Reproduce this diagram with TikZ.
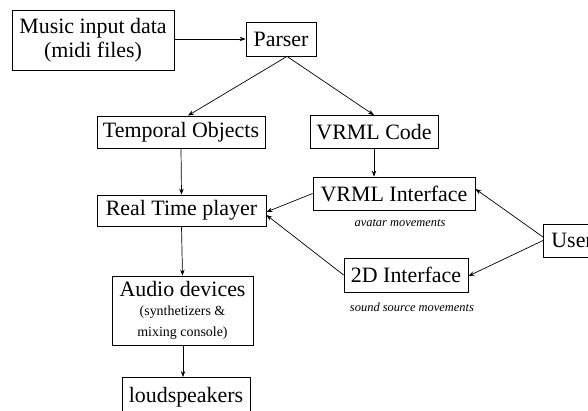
\documentclass[tikz,border=0pt]{standalone}
\usepackage{fontspec}
\setmainfont{Liberation Serif}
\usetikzlibrary{arrows.meta}

\begin{document}
\begin{tikzpicture}[x=1bp,y=-1bp,
  box/.style={draw, line width=0.8bp, inner sep=0pt, align=center,
              font=\fontsize{22}{24}\selectfont},
  arr/.style={-{Stealth[length=6bp,width=4.5bp]}, line width=0.7bp},
  note/.style={inner sep=0pt, font=\fontsize{12.5}{14}\selectfont\itshape}]
\useasboundingbox (0,0) rectangle (588,410);

% boxes
\node[box, minimum width=162bp, minimum height=60bp] (music) at (93,40)
  {Music input data\\(midi files)};
\node[box, minimum width=70bp, minimum height=34bp] (parser) at (281,39) {Parser};
\node[box, minimum width=168bp, minimum height=32bp] (temporal) at (181,132) {Temporal Objects};
\node[box, minimum width=128bp, minimum height=33bp] (vcode) at (374,132) {VRML Code};
\node[box, minimum width=162bp, minimum height=33bp] (vint) at (394,193.5) {VRML Interface};
\node[box, minimum width=169bp, minimum height=31bp] (rtp) at (181.5,210.5) {Real Time player};
\node[box, minimum width=124bp, minimum height=34bp] (dint) at (406,275) {2D Interface};
\node[box, minimum height=33bp, inner xsep=8bp, text width=48bp, align=left, anchor=west] (user) at (543,240.5) {User};
\node[box, minimum width=141bp, minimum height=69bp] (audio) at (182.5,310.5)
  {Audio devices\\[-5bp]{\fontsize{14}{15}\selectfont (synthetizers \&}\\[-3bp]{\fontsize{14}{15}\selectfont mixing console)}};
\node[box, minimum width=128bp, minimum height=40bp, anchor=north, text depth=0pt] (loud) at (186,377)
  {\raisebox{6bp}{loudspeakers}};

% labels
\node[note] (lblav) at (400,223) {avatar movements};
\node[note] (lblss) at (412,307) {sound source movements};

% connectors
\draw[arr] (music.east |- parser.west) -- (parser.west);
\coordinate (psplit) at ([xshift=6bp]parser.south);
\draw[arr] (psplit) -- ([xshift=7bp]temporal.north);
\draw[arr] (psplit) -- (vcode.north);
\draw[arr] (vcode.south) -- (vcode.south |- vint.north);
\draw[arr] (temporal.south) -- (rtp.north);
\draw[arr] (rtp.south) -- (audio.north);
\draw[arr] (audio.south -| loud.north) ++(-3bp,0) coordinate (asrc) -- (asrc |- loud.north);
\draw[arr] (vint.west) -- ([yshift=-1.5bp]rtp.east);
\draw[arr] (dint.west) -- ([yshift=-4.5bp]rtp.east);
\draw[arr] ([yshift=3.5bp]user.west) -- ([yshift=4.5bp]vint.east);
\draw[arr] (user.west) -- ([yshift=-1bp]dint.east);
\end{tikzpicture}
\end{document}
